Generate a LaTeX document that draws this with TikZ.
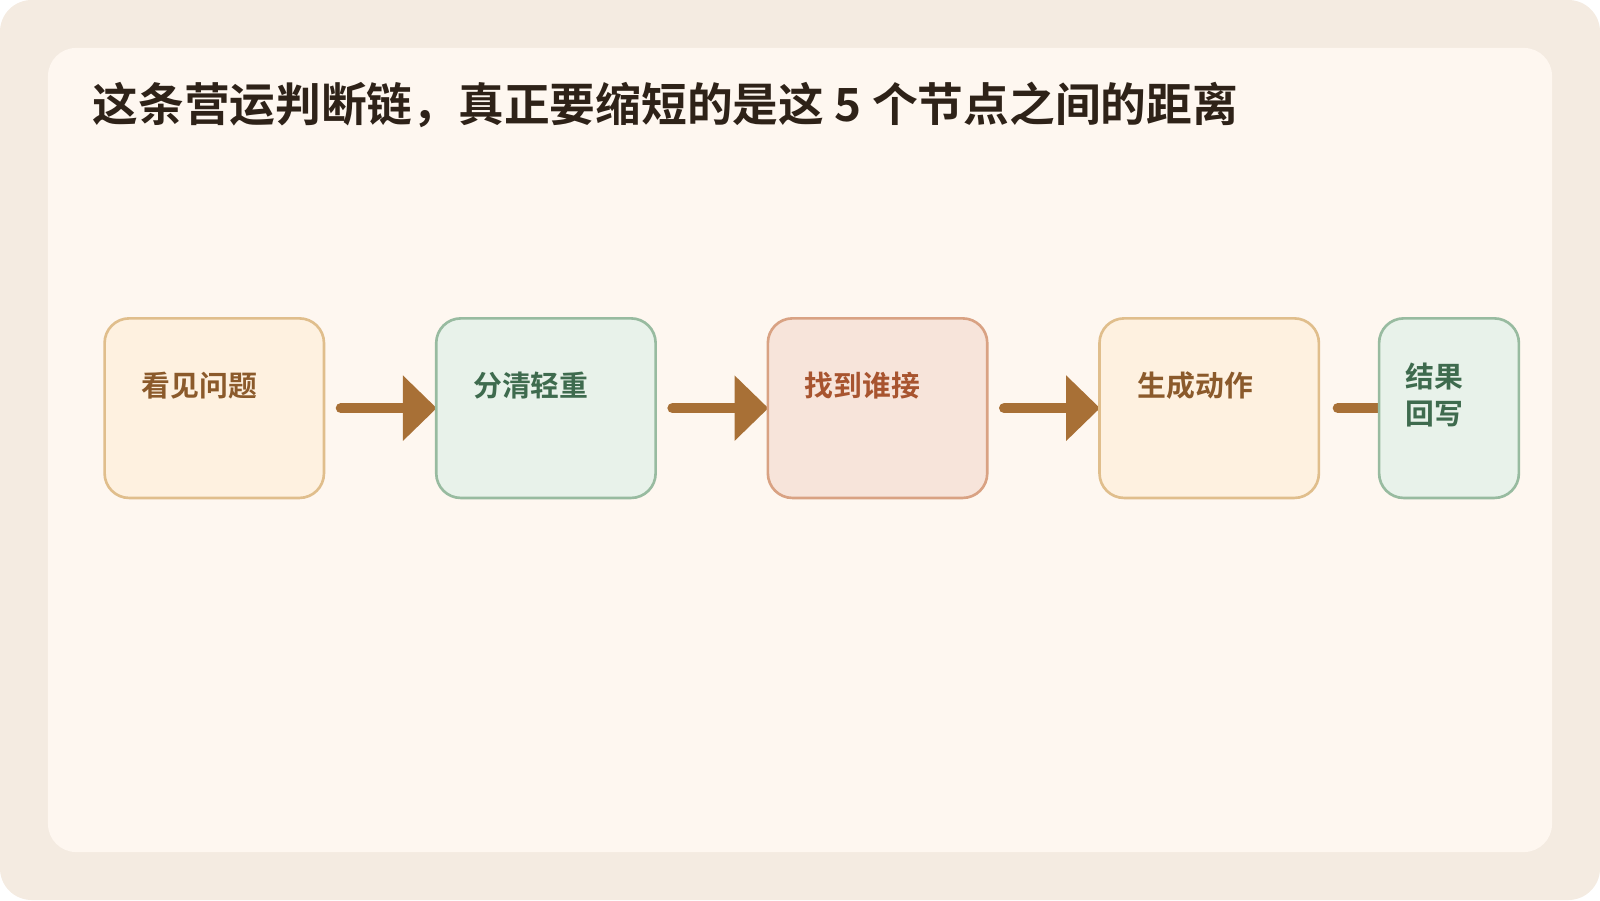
\documentclass[tikz,border=0pt]{standalone}
\usepackage{fontspec}
\setmainfont{Noto Sans CJK SC}
\newfontfamily\cjkbold{Noto Sans CJK SC Bold}
\usetikzlibrary{positioning, calc, arrows.meta}
\definecolor{pagebg}{HTML}{F4EBE1}
\definecolor{panelbg}{HTML}{FEF7F0}
\definecolor{titlec}{HTML}{2E2218}
\definecolor{ambfill}{HTML}{FEF1E0}
\definecolor{ambline}{HTML}{E0BE8C}
\definecolor{ambtext}{HTML}{8B5A2B}
\definecolor{grnfill}{HTML}{E8F2EA}
\definecolor{grnline}{HTML}{98BBA0}
\definecolor{grntext}{HTML}{3E6B4E}
\definecolor{redfill}{HTML}{F7E4DA}
\definecolor{redline}{HTML}{D9A283}
\definecolor{redtext}{HTML}{A8542F}
\definecolor{flowc}{HTML}{A87036}
\tikzset{
	stage/.style={draw, line width=0.75pt, rounded corners=7pt, minimum width=215*0.0102cm, minimum height=176*0.0102cm, inner sep=0pt},
	amber/.style={stage, fill=ambfill, draw=ambline},
	green/.style={stage, fill=grnfill, draw=grnline},
	rose/.style={stage, fill=redfill, draw=redline},
	stagetext/.style={anchor=west, font=\cjkbold\fontsize{8.2pt}{10.5pt}\selectfont, align=left, inner sep=0pt},
	flow/.style={line width=2.9pt, color=flowc, line cap=round, -{Triangle[length=9.6pt, width=18pt]}},
}
\begin{document}
\begin{tikzpicture}[x=0.0102cm, y=-0.0102cm]
	% background and panel
	\fill[pagebg, rounded corners=9pt] (0,0) rectangle (1568,882);
	\fill[panelbg, rounded corners=8pt] (47,47) rectangle (1521,835);
	\node[anchor=west, inner sep=0pt, text=titlec, font=\cjkbold\fontsize{13pt}{15pt}\selectfont] (title) at (90,103) {这条营运判断链，真正要缩短的是这 5 个节点之间的距离};

	% connectors first, boxes on top
	\coordinate (s1) at (210,400);
	\coordinate (s2) at (535,400);
	\coordinate (s3) at (860,400);
	\coordinate (s4) at (1185,400);
	\coordinate (s5) at (1420,400);
	\draw[flow] ($(s1)+(124,0)$) -- ($(s2)+(-107,0)$);
	\draw[flow] ($(s2)+(124,0)$) -- ($(s3)+(-107,0)$);
	\draw[flow] ($(s3)+(124,0)$) -- ($(s4)+(-107,0)$);
	\draw[flow] ($(s4)+(126,0)$) -- ($(s5)+(0,0)$);

	% stages
	\node[amber] (see) at (s1) {};
	\node[green] (rank) at (s2) {};
	\node[rose] (owner) at (s3) {};
	\node[amber] (act) at (s4) {};
	\node[green, minimum width=137*0.0102cm] (back) at (s5) {};

	\node[stagetext, text=ambtext] (seet) at (138,378) {看见问题};
	\node[stagetext, text=grntext] (rankt) at (463,378) {分清轻重};
	\node[stagetext, text=redtext] (ownert) at (788,378) {找到谁接};
	\node[stagetext, text=ambtext] (actt) at (1114,378) {生成动作};
	\node[stagetext, text=grntext] (backt) at (1377,387) {结果\\回写};
\end{tikzpicture}
\end{document}
